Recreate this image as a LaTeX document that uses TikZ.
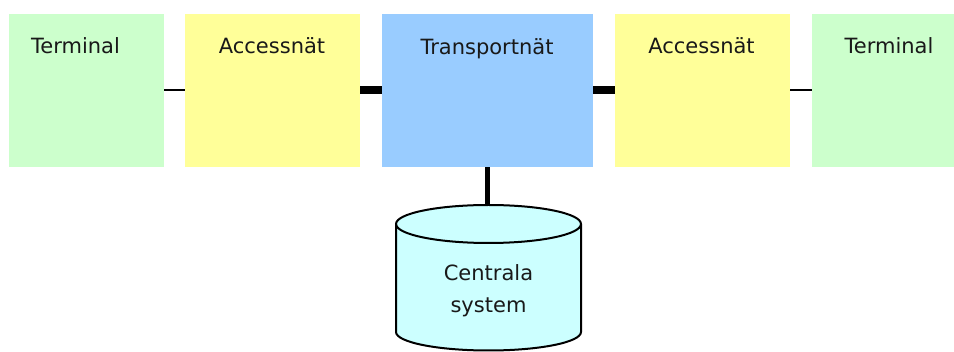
\documentclass[tikz,border=0pt]{standalone}
\usepackage{fontspec}
\setmainfont{DejaVu Sans}
\definecolor{termgreen}{HTML}{CCFFCC}
\definecolor{accyellow}{HTML}{FFFF99}
\definecolor{transblue}{HTML}{99CCFF}
\definecolor{cylcyan}{HTML}{CCFFFF}
\begin{document}
\begin{tikzpicture}[x=1pt,y=-1pt,
  block/.style={draw=none,inner sep=0pt,minimum height=153pt},
  lbl/.style={anchor=base,inner sep=0pt,font=\fontsize{21pt}{24pt}\selectfont,text=black!90},
  thinlink/.style={line width=2pt},
  thicklink/.style={line width=8pt},
  stemlink/.style={line width=5.5pt}]
  \useasboundingbox (0,0) rectangle (954,352);

  % network blocks
  \node[block,fill=termgreen,minimum width=155pt] (t1) at (86.5,90.5) {};
  \node[block,fill=accyellow,minimum width=175pt] (a1) at (272.5,90.5) {};
  \node[block,fill=transblue,minimum width=211pt] (tr) at (487.5,90.5) {};
  \node[block,fill=accyellow,minimum width=175pt] (a2) at (702.5,90.5) {};
  \node[block,fill=termgreen,minimum width=142pt] (t2) at (883,90.5) {};

  % block titles
  \node[lbl] (t1l) at (75.5,54) {Terminal};
  \node[lbl] (a1l) at (272,54) {Accessnät};
  \node[lbl] (trl) at (487,54.5) {Transportnät};
  \node[lbl] (a2l) at (701.5,54) {Accessnät};
  \node[lbl] (t2l) at (889,54) {Terminal};

  % central systems cylinder (y axis points down, so arcs run the other way)
  \draw[line width=2pt,fill=cylcyan]
    (396,224) -- (396,332) arc[start angle=180,end angle=0,x radius=92.5,y radius=18.5]
    -- (581,224) arc[start angle=0,end angle=-180,x radius=92.5,y radius=19] -- cycle;
  \draw[line width=2pt] (396,224) arc[start angle=180,end angle=0,x radius=92.5,y radius=19];
  \coordinate (cyltop) at (487.5,205);
  \node[lbl] (cyl1) at (488.5,281) {Centrala};
  \node[lbl] (cyl2) at (488.5,313) {system};

  % links
  \draw[thinlink] (t1.east) -- (a1.west);
  \draw[thicklink] (a1.east) -- (tr.west);
  \draw[thicklink] (tr.east) -- (a2.west);
  \draw[thinlink] (a2.east) -- (t2.west);
  \draw[stemlink] (tr.south) -- (cyltop);
\end{tikzpicture}
\end{document}
